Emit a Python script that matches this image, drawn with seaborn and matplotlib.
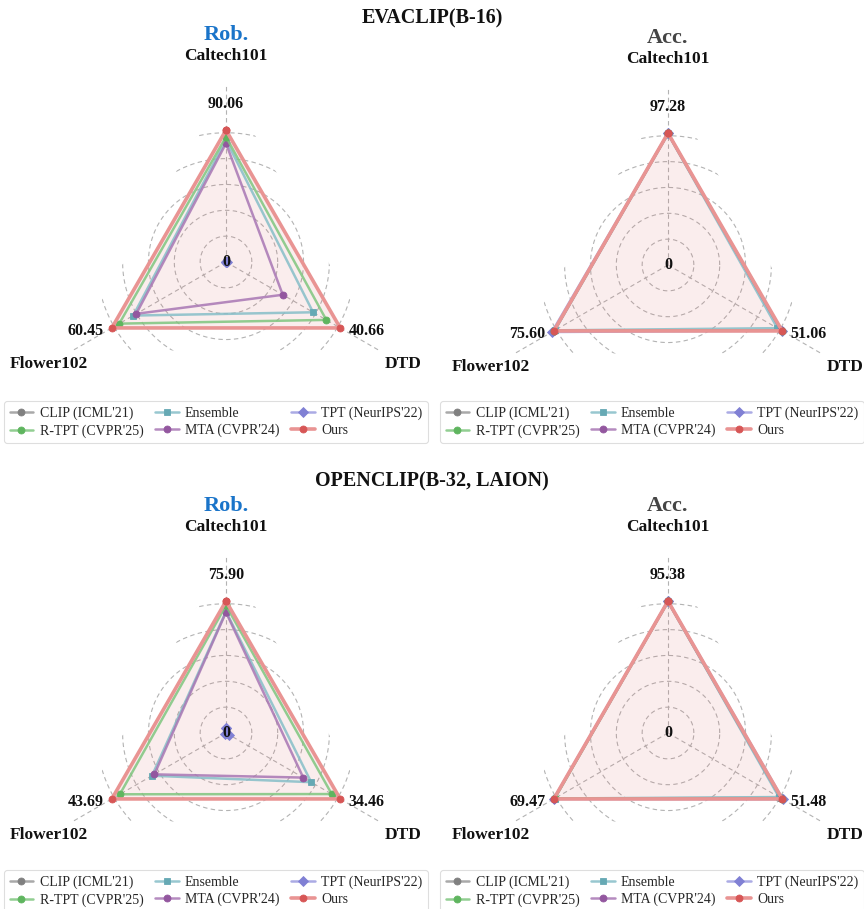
import numpy as np
import pandas as pd
import matplotlib
matplotlib.use("Agg")
import matplotlib.pyplot as plt
from matplotlib.patches import Polygon
from matplotlib.colors import to_rgb
import seaborn as sns

sns.set_theme(style="white")
plt.rcParams["font.family"] = ["Liberation Serif", "DejaVu Serif"]

# ── data ───────────────────────────────────────────────────
DATASETS = ["Caltech101", "Flower102", "DTD"]
METHODS = ["CLIP (ICML'21)", "R-TPT (CVPR'25)", "Ensemble",
           "MTA (CVPR'24)", "TPT (NeurIPS'22)", "Ours"]

# rows follow METHODS, columns follow DATASETS
EVA_ROB = [[0.0, 0.0, 0.0],
           [85.5, 56.5, 35.7],
           [83.2, 49.1, 31.0],
           [81.0, 47.5, 20.2],
           [0.3, 0.2, 0.2],
           [90.06, 60.45, 40.66]]
EVA_ACC = [[96.9, 75.2, 50.4],
           [97.1, 75.4, 50.8],
           [96.8, 74.9, 48.9],
           [97.0, 75.3, 50.5],
           [97.2, 76.8, 50.9],
           [97.28, 75.60, 51.06]]
OPEN_ROB = [[0.0, 0.0, 0.0],
            [73.4, 40.6, 31.9],
            [69.9, 28.3, 25.7],
            [69.5, 27.4, 23.3],
            [3.0, 0.5, 1.0],
            [75.90, 43.69, 34.46]]
OPEN_ACC = [[94.9, 69.1, 50.6],
            [95.2, 68.9, 51.2],
            [95.0, 69.0, 50.0],
            [95.1, 69.3, 51.0],
            [95.6, 69.6, 51.8],
            [95.38, 69.47, 51.48]]

# (line colour, marker colour, marker)
STYLE = {
    "CLIP (ICML'21)":   ("#9a9a9a", "#808080", "o"),
    "R-TPT (CVPR'25)":  ("#7fc67f", "#5fb55f", "o"),
    "Ensemble":         ("#86bec8", "#66a9b4", "s"),
    "MTA (CVPR'24)":    ("#a877b4", "#93579f", "o"),
    "TPT (NeurIPS'22)": ("#9c9ce0", "#8080d4", "D"),
    "Ours":             ("#e99493", "#d75656", "o"),
}
DRAW_ORDER = ["CLIP (ICML'21)", "TPT (NeurIPS'22)", "Ensemble",
              "MTA (CVPR'24)", "R-TPT (CVPR'25)", "Ours"]

ANGLES = np.deg2rad([90, 210, 330])
RMAX = 1.342
RINGS = [0.196, 0.392, 0.588, 0.784, 0.98]
GRID_C = "#b3b3b3"

W, H = 864, 909
fig = plt.figure(figsize=(W / 100, H / 100), dpi=100)


def radar(cx, cy, vals, title, title_color, lcx, lcy):
    size = 2 * 177
    ax = fig.add_axes([(cx - 177) / W, (H - cy - 177) / H, size / W, size / H],
                      projection="polar")
    ax.set_ylim(0, RMAX)
    ax.set_xticks([])
    ax.set_yticks([])
    ax.grid(False)
    ax.spines["polar"].set_visible(False)
    ax.patch.set_alpha(0)

    # triangle frame used as clip for the rings
    tri = Polygon([(0.5 + 0.5 * np.cos(a), 0.5 + 0.5 * np.sin(a)) for a in ANGLES],
                  closed=True, transform=ax.transAxes, facecolor="none", edgecolor="none")
    tt = np.linspace(0, 2 * np.pi, 400)
    for rr in RINGS:
        ln, = ax.plot(tt, np.full_like(tt, rr), ls=(0, (4, 3)), color=GRID_C, lw=0.8, zorder=1)
        ln.set_clip_path(tri)
    for a in ANGLES:
        ax.plot([a, a], [0, RMAX], ls=(0, (4, 3)), color=GRID_C, lw=0.8, zorder=1, clip_on=False)

    ours = np.array(vals[METHODS.index("Ours")])
    theta = np.append(ANGLES, ANGLES[0] + 2 * np.pi)

    rows = []
    for m, v in zip(METHODS, vals):
        r = np.array(v) / ours
        for t, rv in zip(theta, np.append(r, r[0])):
            rows.append({"method": m, "theta": t, "r": rv})
    df = pd.DataFrame(rows)

    # light fill for ours
    d_o = df[df["method"] == "Ours"]
    ax.fill(d_o["theta"], d_o["r"], color="#d75656", alpha=0.1, lw=0, zorder=2)

    handles = {}
    for m in DRAW_ORDER:
        lc, mc, mk = STYLE[m]
        d = df[df["method"] == m]
        n0 = len(ax.lines)
        sns.lineplot(data=d, x="theta", y="r", sort=False, estimator=None, ax=ax,
                     color=lc, marker=mk, markersize=5 if mk != "s" else 4.5,
                     lw=2.6 if m == "Ours" else 1.8, legend=False,
                     zorder=6 if m == "Ours" else 4)
        ln = ax.lines[n0]
        ln.set_alpha(None)
        ln.set_color((*to_rgb(lc), 1.0 if m == "Ours" else 0.85))
        ln.set_markerfacecolor(mc)
        ln.set_markeredgecolor(mc)
        ln.set_markeredgewidth(0.6)
        ln.set_clip_on(False)
        handles[m] = ln
    ax.set_xlabel("")
    ax.set_ylabel("")
    ax.set_ylim(0, RMAX)

    # value labels (taken from Ours)
    tk = dict(fontsize=11.5, fontweight="bold", color="#111111", zorder=10)
    ax.text(ANGLES[0], 1.2, f"{ours[0]:.2f}", ha="center", va="center", **tk)
    ax.annotate(f"{ours[1]:.2f}", xy=(ANGLES[1], 1.0), xytext=(-6, -2.5),
                textcoords="offset points", ha="right", va="center", **tk)
    ax.annotate(f"{ours[2]:.2f}", xy=(ANGLES[2], 1.0), xytext=(6, -2.5),
                textcoords="offset points", ha="left", va="center", **tk)
    ax.text(0, 0, "0", ha="center", va="center", **tk)

    for a, name in zip(ANGLES, DATASETS):
        rr = 1.56 if a == ANGLES[0] else 1.55
        ax.text(a, rr, name, ha="center", va="center", fontsize=12.5,
                fontweight="bold", color="#111111")
    ax.text(np.pi / 2, 1.72, title, ha="center", va="center", fontsize=16,
            fontweight="bold", color=title_color)

    order = ["CLIP (ICML'21)", "R-TPT (CVPR'25)", "Ensemble",
             "MTA (CVPR'24)", "TPT (NeurIPS'22)", "Ours"]
    leg = fig.legend([handles[m] for m in order], order, ncol=3, loc="center",
                     bbox_to_anchor=(lcx / W, 1 - lcy / H), fontsize=10,
                     frameon=True, fancybox=True, framealpha=1, edgecolor="#dedede",
                     handlelength=1.7, handletextpad=0.45, columnspacing=0.85,
                     labelspacing=0.3, borderpad=0.4)
    leg.get_frame().set_linewidth(0.8)
    return ax


fig.text(0.5, 1 - 18 / H, "EVACLIP(B-16)", ha="center", va="center",
         fontsize=14.5, fontweight="bold", color="#111111")
fig.text(0.5, 1 - 481 / H, "OPENCLIP(B-32, LAION)", ha="center", va="center",
         fontsize=14.5, fontweight="bold", color="#111111")

BLUE = "#1a74c9"
GREY = "#454545"
radar(226, 262, EVA_ROB, "Rob.", BLUE, 216, 422)
radar(668, 265, EVA_ACC, "Acc.", GREY, 652, 422)
radar(226, 733, OPEN_ROB, "Rob.", BLUE, 216, 891)
radar(668, 733, OPEN_ACC, "Acc.", GREY, 652, 891)

fig.savefig("out.png", dpi=100)
